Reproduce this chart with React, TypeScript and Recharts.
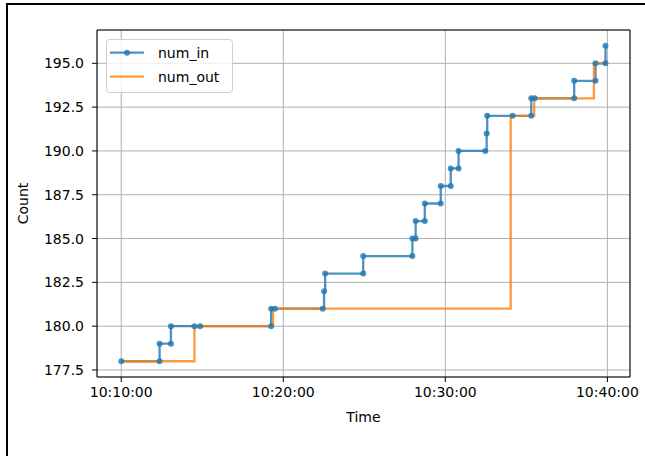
import React from 'react';
import {
  CartesianGrid,
  Legend,
  Line,
  LineChart,
  ReferenceArea,
  XAxis,
  YAxis,
} from 'recharts';

const IN_TIMES = [
  '10:10:00', '10:12:22', '10:12:22', '10:13:04', '10:13:04', '10:14:31', '10:14:52',
  '10:19:15', '10:19:15', '10:19:29', '10:22:26', '10:22:31', '10:22:35', '10:24:56',
  '10:24:56', '10:27:58', '10:27:58', '10:28:10', '10:28:10', '10:28:44', '10:28:44',
  '10:29:43', '10:29:43', '10:30:20', '10:30:20', '10:30:49', '10:30:49', '10:32:28',
  '10:32:33', '10:32:35', '10:34:09', '10:35:18', '10:35:18', '10:35:31', '10:37:57',
  '10:37:57', '10:39:16', '10:39:16', '10:39:53', '10:39:53',
];
const IN_COUNTS = [
  178, 178, 179, 179, 180, 180, 180,
  180, 181, 181, 181, 182, 183, 183,
  184, 184, 185, 185, 186, 186, 187,
  187, 188, 188, 189, 189, 190, 190,
  191, 192, 192, 192, 193, 193, 193,
  194, 194, 195, 195, 196,
];

const OUT_TIMES = ['10:10:00', '10:14:31', '10:19:22', '10:34:02', '10:35:29', '10:39:10', '10:39:54'];
const OUT_COUNTS = [178, 180, 181, 192, 193, 195, 195];

const X_TICKS = ['10:10:00', '10:20:00', '10:30:00', '10:40:00'];
const Y_TICKS = [177.5, 180, 182.5, 185, 187.5, 190, 192.5, 195];

const BLUE = '#1f77b4';
const ORANGE = '#ff7f0e';
const FONT = '"DejaVu Sans", sans-serif';

const toSec = (s: string) => {
  const [h, m, sec] = s.split(':').map(Number);
  return h * 3600 + m * 60 + sec;
};

const fmtTime = (v: number) => {
  const h = Math.floor(v / 3600);
  const m = Math.floor((v % 3600) / 60);
  const s = Math.round(v % 60);
  return [h, m, s].map((n) => String(n).padStart(2, '0')).join(':');
};

const inData = IN_TIMES.map((t, i) => ({ t: toSec(t), v: IN_COUNTS[i] }));
const outData = OUT_TIMES.map((t, i) => ({ t: toSec(t), v: OUT_COUNTS[i] }));

// matplotlib-style 5% margins
const withMargin = (vals: number[]): [number, number] => {
  const lo = Math.min(...vals);
  const hi = Math.max(...vals);
  const pad = (hi - lo) * 0.05;
  return [lo - pad, hi + pad];
};

const xDomain = withMargin([...inData, ...outData].map((d) => d.t));
const yDomain = withMargin([...IN_COUNTS, ...OUT_COUNTS]);

const LegendBox = (props: any) => {
  const items = props.payload ?? [];
  return (
    <svg width={127} height={54} style={{ display: 'block' }}>
      <rect x={0.5} y={0.5} width={126} height={53} rx={3} fill="#fff" fillOpacity={0.8} stroke="#d0d0d0" />
      {items.map((item: any, i: number) => {
        const y = 13.7 + i * 24;
        return (
          <g key={item.value}>
            <line x1={4} x2={38} y1={y} y2={y} stroke={item.color} strokeWidth={2.3} strokeOpacity={0.8} />
            {i === 0 && <circle cx={21} cy={y} r={3} fill={item.color} fillOpacity={0.8} />}
            <text x={52} y={y} dominantBaseline="central" fontSize={14} fontFamily={FONT} fill="#000">
              {item.value}
            </text>
          </g>
        );
      })}
    </svg>
  );
};

export default function App() {
  return (
    <div style={{ position: 'absolute', left: 0, top: 0, width: 645, height: 456, background: '#fff' }}>
      <div
        style={{
          position: 'absolute',
          left: 6,
          top: 3,
          width: 645,
          height: 460,
          borderTop: '2px solid #000',
          borderLeft: '2px solid #000',
        }}
      />
      <LineChart
        width={645}
        height={456}
        margin={{ top: 30, right: 15, left: 0, bottom: 49 }}
        style={{ fontFamily: FONT, position: 'absolute', left: 0, top: 0 }}
      >
        <CartesianGrid stroke="#b0b0b0" strokeWidth={1} />
        <XAxis
          dataKey="t"
          type="number"
          domain={xDomain}
          ticks={X_TICKS.map(toSec)}
          tickFormatter={fmtTime}
          allowDataOverflow
          height={30}
          tickSize={5}
          tickMargin={5}
          axisLine={false}
          tickLine={{ stroke: '#000' }}
          tick={{ fontSize: 14, fill: '#000', fontFamily: FONT }}
          label={{
            content: (p: any) => (
              <text
                x={p.viewBox.x + p.viewBox.width / 2}
                y={417}
                textAnchor="middle"
                dominantBaseline="central"
                fontSize={14}
                fontFamily={FONT}
                fill="#000"
              >
                Time
              </text>
            ),
          }}
        />
        <YAxis
          type="number"
          domain={yDomain}
          ticks={Y_TICKS}
          tickFormatter={(v: number) => v.toFixed(1)}
          allowDataOverflow
          width={97}
          tickSize={5}
          tickMargin={8}
          axisLine={false}
          tickLine={{ stroke: '#000' }}
          tick={{ fontSize: 14, fill: '#000', fontFamily: FONT }}
          label={{
            content: (p: any) => {
              const cx = 23;
              const cy = p.viewBox.y + p.viewBox.height / 2;
              return (
                <text
                  x={cx}
                  y={cy}
                  textAnchor="middle"
                  dominantBaseline="central"
                  transform={`rotate(-90, ${cx}, ${cy})`}
                  fontSize={14}
                  fontFamily={FONT}
                  fill="#000"
                >
                  Count
                </text>
              );
            },
          }}
        />
        <ReferenceArea
          x1={xDomain[0]}
          x2={xDomain[1]}
          y1={yDomain[0]}
          y2={yDomain[1]}
          fill="#fff"
          fillOpacity={0}
          stroke="#000"
          strokeWidth={1}
          ifOverflow="visible"
        />
        <Line
          data={inData}
          dataKey="v"
          name="num_in"
          type="stepAfter"
          stroke={BLUE}
          strokeWidth={2.3}
          strokeOpacity={0.8}
          dot={{ r: 3, fill: BLUE, fillOpacity: 0.8, stroke: 'none' }}
          activeDot={false}
          isAnimationActive={false}
        />
        <Line
          data={outData}
          dataKey="v"
          name="num_out"
          type="stepAfter"
          stroke={ORANGE}
          strokeWidth={2.3}
          strokeOpacity={0.8}
          dot={false}
          activeDot={false}
          isAnimationActive={false}
        />
        <Legend
          layout="vertical"
          align="center"
          verticalAlign="middle"
          content={LegendBox}
          wrapperStyle={{ left: 106, top: 39, width: 127, height: 54 }}
        />
      </LineChart>
    </div>
  );
}
